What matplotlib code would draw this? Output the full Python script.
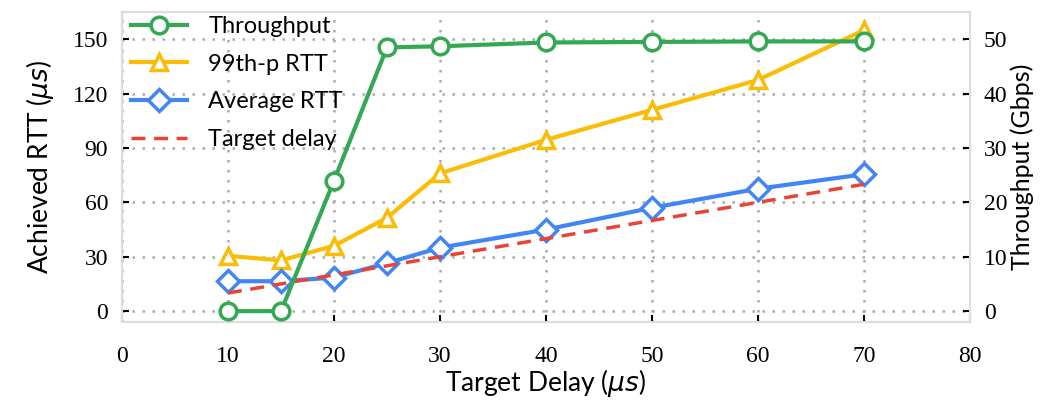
import numpy as np
import matplotlib.pyplot as plt

# Measured values per target delay setting
target_delay = [10, 15, 20, 25, 30, 40, 50, 60, 70]
throughput = [0, 0, 24, 48.5, 48.7, 49.4, 49.5, 49.6, 49.6]     # Gbps
rtt_p99 = [30.5, 28, 36, 51.5, 76, 94.5, 111, 127.5, 155]       # us
rtt_avg = [16.5, 16.5, 18.5, 26.5, 35, 45, 57, 67.5, 75.5]      # us

GREEN = '#34A853'
YELLOW = '#FBBC05'
BLUE = '#4285F4'
RED = '#EA4335'

tick_font = 'Liberation Serif'
label_font = 'Lato'

fig = plt.figure(figsize=(10.52, 4.01), dpi=100)
ax = fig.add_axes([0.116, 0.197, 0.806, 0.773])
ax2 = ax.twinx()

lw = 3
ms = 12
l_p99, = ax.plot(target_delay, rtt_p99, color=YELLOW, lw=lw, marker='^', ms=ms,
                 mfc='white', mec=YELLOW, mew=2.5, label='99th-p RTT', zorder=3)
l_avg, = ax.plot(target_delay, rtt_avg, color=BLUE, lw=lw, marker='D', ms=ms - 1,
                 mfc='white', mec=BLUE, mew=2.5, label='Average RTT', zorder=4)
l_tgt, = ax.plot([target_delay[0], target_delay[-1]], [target_delay[0], target_delay[-1]],
                 color=RED, lw=2.5, ls=(0, (4, 2.5)), label='Target delay', zorder=5)
l_tp, = ax2.plot(target_delay, throughput, color=GREEN, lw=lw, marker='o', ms=ms,
                 mfc='white', mec=GREEN, mew=2.5, label='Throughput', zorder=3)

ax.set_xlim(0, 80)
ax.set_ylim(-6, 165)
ax2.set_ylim(-2, 55)
ax.set_xticks(np.arange(0, 81, 10))
ax.set_yticks(np.arange(0, 151, 30))
ax2.set_yticks(np.arange(0, 51, 10))

ax.grid(True, color='#aaaaaa', ls=(0, (1, 3)), lw=1.8)
ax.set_axisbelow(True)

for a in (ax, ax2):
    a.tick_params(direction='in', length=5, width=1.5, labelsize=17, pad=8)
    for s in a.spines.values():
        s.set_color('#dddddd')
        s.set_linewidth(1.5)
    for lab in a.get_xticklabels() + a.get_yticklabels():
        lab.set_fontfamily(tick_font)
ax.tick_params(axis='x', pad=17)
ax.tick_params(axis='y', pad=10)
ax2.tick_params(axis='y', pad=10)

ax.set_xlabel(r'Target Delay ($\mu s$)', fontsize=19, fontfamily=label_font, labelpad=0)
ax.set_ylabel(r'Achieved RTT ($\mu s$)', fontsize=19, fontfamily=label_font, labelpad=12)
ax2.set_ylabel('Throughput (Gbps)', fontsize=18, fontfamily=label_font, labelpad=2)

leg = ax2.legend(handles=[l_tp, l_p99, l_avg, l_tgt], loc='upper left',
                 bbox_to_anchor=(-0.015, 1.055), frameon=False, handlelength=2.4,
                 handletextpad=0.9, labelspacing=0.7,
                 prop={'family': label_font, 'size': 17})

fig.savefig('out.png', dpi=100)
